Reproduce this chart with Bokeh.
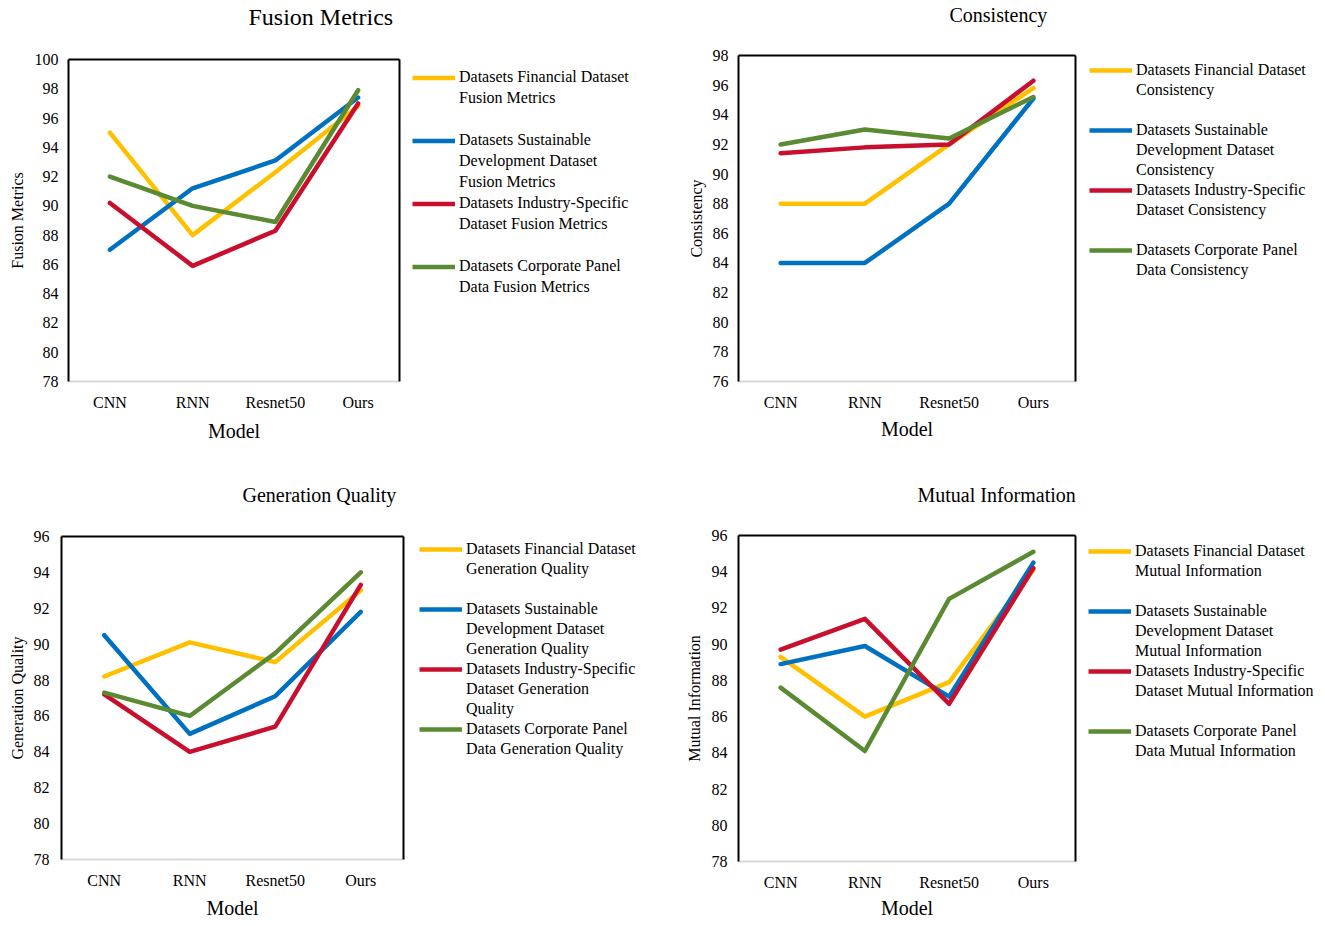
from bokeh.plotting import figure
from bokeh.models import (Range1d, FactorRange, SingleIntervalTicker, FixedTicker, LinearAxis,
                          CategoricalAxis, Legend, LegendItem, Title)
from bokeh.layouts import row, column
from bokeh.core.properties import value
from bokeh.embed import file_html
from bokeh.resources import INLINE

# ---------------- data ----------------
models = ["CNN", "RNN", "Resnet50", "Ours"]

fusion_financial = [95.0, 88.0, 92.3, 96.8]
fusion_sustainable = [87.0, 91.2, 93.1, 97.4]
fusion_industry = [90.2, 85.9, 88.3, 97.0]
fusion_corporate = [92.0, 90.0, 88.9, 97.9]

consistency_financial = [88.0, 88.0, 92.0, 95.8]
consistency_sustainable = [84.0, 84.0, 88.0, 95.1]
consistency_industry = [91.4, 91.8, 92.0, 96.3]
consistency_corporate = [92.0, 93.0, 92.4, 95.2]

generation_financial = [88.2, 90.1, 89.0, 93.0]
generation_sustainable = [90.5, 85.0, 87.1, 91.8]
generation_industry = [87.2, 84.0, 85.4, 93.3]
generation_corporate = [87.3, 86.0, 89.5, 94.0]

mutual_financial = [89.3, 86.0, 87.9, 94.1]
mutual_sustainable = [88.9, 89.9, 87.1, 94.5]
mutual_industry = [89.7, 91.4, 86.7, 94.2]
mutual_corporate = [87.6, 84.1, 92.5, 95.1]

fusion_legend = [
    ["Datasets Financial Dataset", "Fusion Metrics"],
    ["Datasets Sustainable", "Development Dataset", "Fusion Metrics"],
    ["Datasets Industry-Specific", "Dataset Fusion Metrics"],
    ["Datasets Corporate Panel", "Data Fusion Metrics"],
]
consistency_legend = [
    ["Datasets Financial Dataset", "Consistency"],
    ["Datasets Sustainable", "Development Dataset", "Consistency"],
    ["Datasets Industry-Specific", "Dataset Consistency"],
    ["Datasets Corporate Panel", "Data Consistency"],
]
generation_legend = [
    ["Datasets Financial Dataset", "Generation Quality"],
    ["Datasets Sustainable", "Development Dataset", "Generation Quality"],
    ["Datasets Industry-Specific", "Dataset Generation", "Quality"],
    ["Datasets Corporate Panel", "Data Generation Quality"],
]
mutual_legend = [
    ["Datasets Financial Dataset", "Mutual Information"],
    ["Datasets Sustainable", "Development Dataset", "Mutual Information"],
    ["Datasets Industry-Specific", "Dataset Mutual Information"],
    ["Datasets Corporate Panel", "Data Mutual Information"],
]

# ---------------- styles / layout ----------------
colors = ["#FFC000", "#0070C0", "#C8102E", "#5A8A32"]
FONT = "Liberation Serif"
SLOT_ROWS = 3
LINE_W = 4.5

panels = [
    dict(title="Fusion Metrics", ylabel="Fusion Metrics", yr=(78, 100),
         series=[fusion_financial, fusion_sustainable, fusion_industry, fusion_corporate],
         legend=fusion_legend,
         width=401, leg_width=265, height=468, borders=(68, 59, 2, 87),
         title_size="24px", title_offset=180, top_gap=33, title_standoff=-6,
         ytick_so=10, ylabel_so=6, xtick_so=12, xlabel_so=6,
         legend_x=11, legend_top=66.5, row_h=21),
    dict(title="Consistency", ylabel="Consistency", yr=(76, 98),
         series=[consistency_financial, consistency_sustainable, consistency_industry, consistency_corporate],
         legend=consistency_legend,
         width=411, leg_width=247, height=468, borders=(72, 55, 2, 87),
         title_size="20px", title_offset=211, top_gap=32, title_standoff=-4,
         ytick_so=10, ylabel_so=5, xtick_so=12, xlabel_so=4,
         legend_x=12, legend_top=60, row_h=20),
    dict(title="Generation Quality", ylabel="Generation Quality", yr=(78, 96),
         series=[generation_financial, generation_sustainable, generation_industry, generation_corporate],
         legend=generation_legend,
         width=405, leg_width=261, height=456, borders=(61, 68, 2, 65),
         title_size="20px", title_offset=181, top_gap=31, title_standoff=0,
         ytick_so=12, ylabel_so=5, xtick_so=12, xlabel_so=5,
         legend_x=14, legend_top=71, row_h=20),
    dict(title="Mutual Information", ylabel="Mutual Information", yr=(78, 96),
         series=[mutual_financial, mutual_sustainable, mutual_industry, mutual_corporate],
         legend=mutual_legend,
         width=411, leg_width=247, height=456, borders=(72, 67, 2, 63),
         title_size="20px", title_offset=179, top_gap=30, title_standoff=0,
         ytick_so=11, ylabel_so=6, xtick_so=12, xlabel_so=3,
         legend_x=11, legend_top=73, row_h=20),
]


def style_text_axis(ax, tick_so, label, label_size, label_so):
    ax.major_tick_out = 0
    ax.major_tick_in = 0
    ax.minor_tick_out = 0
    ax.minor_tick_in = 0
    ax.major_tick_line_color = None
    ax.minor_tick_line_color = None
    ax.major_label_standoff = tick_so
    ax.major_label_text_font = FONT
    ax.major_label_text_font_size = "16px"
    ax.major_label_text_color = "black"
    ax.axis_label = label
    ax.axis_label_text_font = FONT
    ax.axis_label_text_font_size = label_size
    ax.axis_label_text_font_style = "normal"
    ax.axis_label_text_color = "black"
    ax.axis_label_standoff = label_so


def make_plot(cfg):
    l, t, r, b = cfg["borders"]
    p = figure(width=cfg["width"], height=cfg["height"],
               x_range=FactorRange(*models), y_range=Range1d(*cfg["yr"]),
               output_backend="svg", toolbar_location=None,
               min_border_left=l, min_border_top=t, min_border_right=r, min_border_bottom=b,
               background_fill_color="white", border_fill_color="white")
    p.outline_line_color = None
    p.xgrid.grid_line_color = None
    p.ygrid.grid_line_color = None

    ya = p.yaxis[0]
    ya.ticker = SingleIntervalTicker(interval=2)
    ya.axis_line_color = "black"
    ya.axis_line_width = 2
    style_text_axis(ya, cfg["ytick_so"], cfg["ylabel"], "16px", cfg["ylabel_so"])

    xa = p.xaxis[0]
    xa.axis_line_color = "#D9D9D9"
    xa.axis_line_width = 2
    style_text_axis(xa, cfg["xtick_so"], "Model", "20px", cfg["xlabel_so"])

    # top and right frame lines (invisible tick length used as title spacing)
    top = CategoricalAxis(axis_line_color="black", axis_line_width=2,
                          major_tick_out=cfg["top_gap"], major_tick_in=0,
                          major_tick_line_color=None, minor_tick_line_color=None,
                          major_label_text_color=None, major_label_text_font_size="1px",
                          major_label_standoff=0)
    p.add_layout(top, "above")
    right = LinearAxis(ticker=FixedTicker(ticks=[]), axis_line_color="black", axis_line_width=2,
                       major_tick_out=0, major_tick_in=0,
                       major_tick_line_color=None, minor_tick_line_color=None,
                       major_label_text_color=None, major_label_standoff=0)
    p.add_layout(right, "right")

    p.title = Title(text=cfg["title"], align="left", offset=cfg["title_offset"],
                    vertical_align="bottom", standoff=cfg["title_standoff"],
                    text_font=FONT, text_font_size=cfg["title_size"],
                    text_font_style="normal", text_color="black")

    for vals, c in zip(cfg["series"], colors):
        p.line(x=models, y=vals, line_color=c, line_width=LINE_W,
               line_join="round", line_cap="round")
    return p


def make_legend(cfg):
    _, t, _, b = cfg["borders"]
    # legend-only canvas: the series are plotted outside its visible y window,
    # so only the legend (with its line samples) shows
    q = figure(width=cfg["leg_width"], height=cfg["height"],
               x_range=FactorRange(*models), y_range=Range1d(0, 1),
               x_axis_type=None, y_axis_type=None,
               output_backend="svg", toolbar_location=None,
               min_border_left=0, min_border_right=0, min_border_top=t, min_border_bottom=b,
               background_fill_color="white", border_fill_color="white")
    q.outline_line_color = None
    q.xgrid.visible = False
    q.ygrid.visible = False
    items = []
    nser = len(colors)
    for k, (vals, c, lines) in enumerate(zip(cfg["series"], colors, cfg["legend"])):
        proxy = q.line(x=models, y=vals, line_color=c, line_width=LINE_W, line_cap="butt")
        items.append(LegendItem(label=value(lines[0]), renderers=[proxy]))
        items += [LegendItem(label=value(tx), renderers=[]) for tx in lines[1:]]
        if k < nser - 1:
            items += [LegendItem(label=value(" "), renderers=[])
                      for _ in range(SLOT_ROWS - len(lines))]
    rh = cfg["row_h"]
    frame_h = cfg["height"] - t - b
    y_loc = frame_h - (cfg["legend_top"] - t) - rh * len(items)
    leg = Legend(items=items, location=(cfg["legend_x"], y_loc),
                 padding=0, margin=0, spacing=0,
                 glyph_width=43, glyph_height=rh, label_height=rh,
                 label_standoff=4,
                 label_text_font=FONT, label_text_font_size="16px",
                 label_text_color="black",
                 border_line_color=None, background_fill_alpha=0)
    q.add_layout(leg)
    return q


# each panel = chart + its legend canvas, wrapped on its own so that the
# plot frames of neighbouring panels keep their own positions
cells = [row(make_plot(cfg), make_legend(cfg)) for cfg in panels]

layout = column(row(cells[0], cells[1]), row(cells[2], cells[3]))

open("out.html", "w").write(file_html(layout, INLINE))
